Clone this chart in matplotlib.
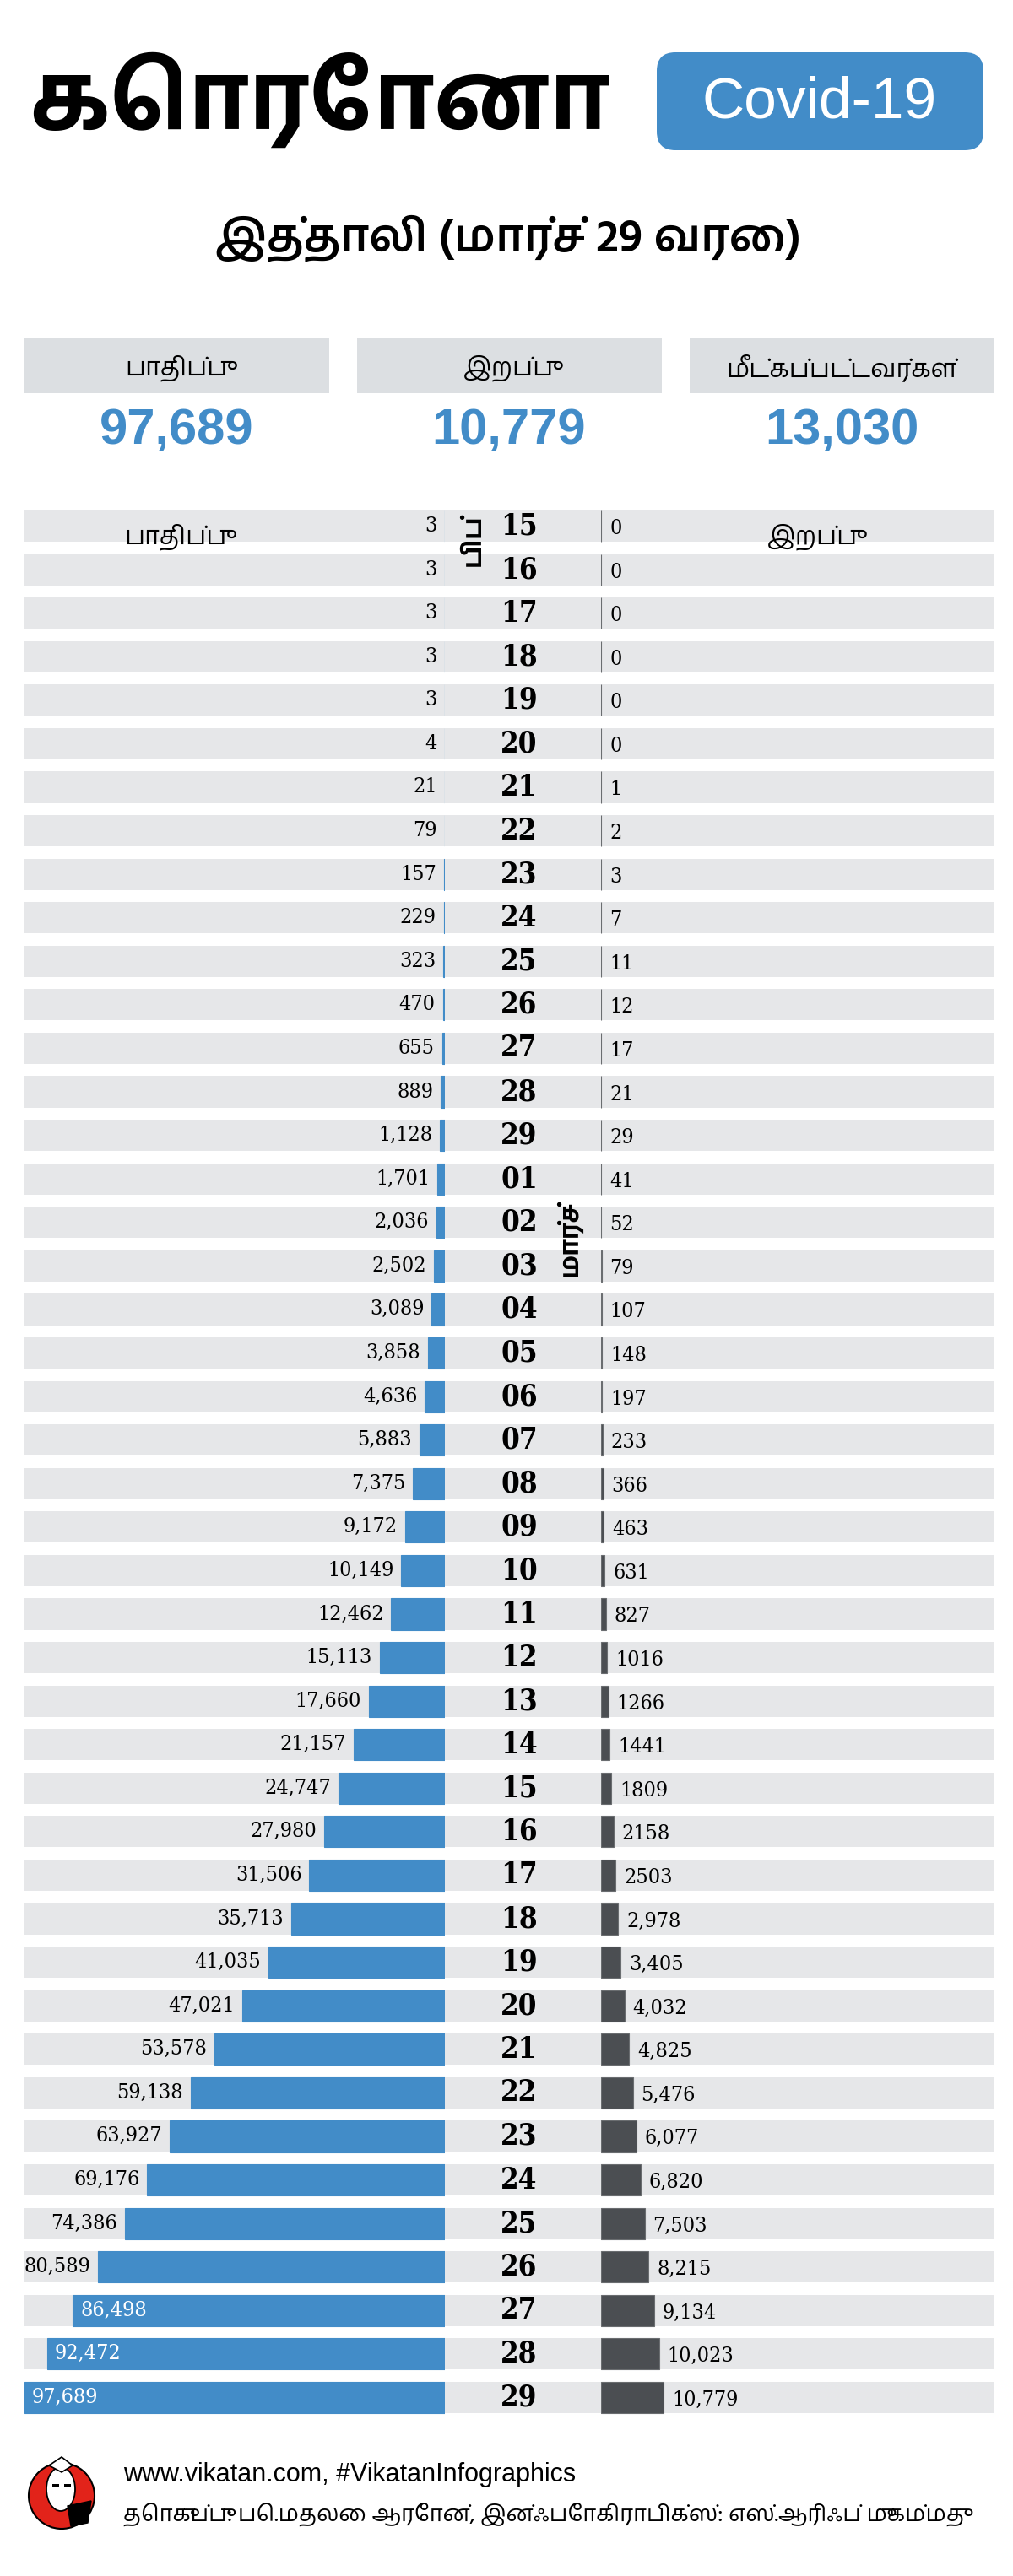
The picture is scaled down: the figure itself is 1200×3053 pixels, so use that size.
import unicodedata
import matplotlib
matplotlib.use("Agg")
import matplotlib.pyplot as plt
from matplotlib.patches import FancyBboxPatch, Rectangle, Circle, Ellipse, Polygon
import numpy as np

# ---------------------------------------------------------------------------
# data: Italy, cumulative cases / deaths, 15 Feb - 29 Mar 2020
# ---------------------------------------------------------------------------
days = ['15', '16', '17', '18', '19', '20', '21', '22', '23', '24', '25', '26',
        '27', '28', '29',
        '01', '02', '03', '04', '05', '06', '07', '08', '09', '10', '11', '12',
        '13', '14', '15', '16', '17', '18', '19', '20', '21', '22', '23', '24',
        '25', '26', '27', '28', '29']
cases = [3, 3, 3, 3, 3, 4, 21, 79, 157, 229, 323, 470, 655, 889, 1128,
         1701, 2036, 2502, 3089, 3858, 4636, 5883, 7375, 9172, 10149, 12462,
         15113, 17660, 21157, 24747, 27980, 31506, 35713, 41035, 47021, 53578,
         59138, 63927, 69176, 74386, 80589, 86498, 92472, 97689]
deaths = [0, 0, 0, 0, 0, 0, 1, 2, 3, 7, 11, 12, 17, 21, 29,
          41, 52, 79, 107, 148, 197, 233, 366, 463, 631, 827, 1016, 1266, 1441,
          1809, 2158, 2503, 2978, 3405, 4032, 4825, 5476, 6077, 6820, 7503,
          8215, 9134, 10023, 10779]
# the source prints some death counts without the thousands comma
death_labels = ['0', '0', '0', '0', '0', '0', '1', '2', '3', '7', '11', '12',
                '17', '21', '29', '41', '52', '79', '107', '148', '197', '233',
                '366', '463', '631', '827', '1016', '1266', '1441', '1809',
                '2158', '2503', '2,978', '3,405', '4,032', '4,825', '5,476',
                '6,077', '6,820', '7,503', '8,215', '9,134', '10,023', '10,779']
summary_labels = ['பாதிப்பு', 'இறப்பு', 'மீட்கப்பட்டவர்கள்']
summary_values = [97689, 10779, 13030]

BLUE = '#428cc8'
DARK = '#4b4e52'
ROW = '#e6e7e9'
HEAD = '#dcdfe2'

TAMIL = ['Hind Madurai', 'Noto Sans Tamil', 'Lohit Tamil', 'DejaVu Sans']
SERIF = 'DejaVu Serif'


def ta(s):
    # canonical decomposition, so two-part vowel signs are drawn without a gap
    return unicodedata.normalize('NFD', s)


W, H = 1200, 3053
fig = plt.figure(figsize=(W / 100, H / 100), dpi=100)
fig.patch.set_facecolor('white')

# overlay in pixel units for the heading, summary boxes and footer
deco = fig.add_axes([0, 0, 1, 1], zorder=5)
deco.set_xlim(0, W)
deco.set_ylim(H, 0)
deco.axis('off')
deco.patch.set_alpha(0)

# ---------------------------------------------------------------------------
# heading
# ---------------------------------------------------------------------------
deco.text(35, 118, ta('கொரோனா'), family=TAMIL, weight='bold', fontsize=80,
          ha='left', va='center')
deco.add_patch(FancyBboxPatch((778, 62), 387, 116,
                              boxstyle='round,pad=0,rounding_size=22',
                              fc=BLUE, ec='none'))
deco.text(971, 121, 'Covid-19', family='Liberation Sans', fontsize=50,
          color='white', ha='center', va='center')
deco.text(602, 283, ta('இத்தாலி (மார்ச் 29 வரை)'), family=TAMIL,
          weight='semibold', fontsize=39, ha='center', va='center')

# summary boxes
box_x = [29, 423, 817]
for bx, lab, val in zip(box_x, summary_labels, summary_values):
    deco.add_patch(Rectangle((bx, 401), 361, 65, fc=HEAD, ec='none'))
    deco.text(bx + 180, 436, ta(lab), family=TAMIL, fontsize=22,
              ha='center', va='center')
    deco.text(bx + 180, 510, f'{val:,}', family='Liberation Sans',
              weight='bold', fontsize=43, color=BLUE, ha='center',
              va='center')

# ---------------------------------------------------------------------------
# rows
# ---------------------------------------------------------------------------
pitch = 51.58
top = 623.5 - pitch / 2
n = len(days)
bottom = 1 - (top + n * pitch) / H
height = n * pitch / H
rows = np.arange(n)
bh = 0.72

ax_bg = fig.add_axes([29 / W, bottom, (1177 - 29) / W, height], zorder=1)
ax_bg.barh(rows, [1] * n, height=bh, color=ROW, left=0)
ax_bg.set_xlim(0, 1)
ax_bg.set_ylim(n - 0.5, -0.5)
ax_bg.axis('off')
for i, d in enumerate(days):
    ax_bg.text((615 - 29) / 1148, i, d, family=SERIF, stretch='condensed',
               weight='bold', fontsize=25, ha='center', va='center')

ax_l = fig.add_axes([29 / W, bottom, (527 - 29) / W, height], zorder=2)
ax_l.barh(rows, cases, height=bh, color=BLUE, ec=BLUE, lw=0.8)
ax_l.set_xlim(max(cases), 0)
ax_l.set_ylim(n - 0.5, -0.5)
ax_l.axis('off')
for i, v in enumerate(cases):
    if v > 0.85 * max(cases):
        ax_l.annotate(f'{v:,}', (v, i), xytext=(9, 0), textcoords='offset pixels',
                      family=SERIF, stretch='condensed', fontsize=18,
                      color='white', ha='left', va='center')
    else:
        ax_l.annotate(f'{v:,}', (v, i), xytext=(-9, 0), textcoords='offset pixels',
                      family=SERIF, stretch='condensed', fontsize=18,
                      color='black', ha='right', va='center')

ax_r = fig.add_axes([712 / W, bottom, (1177 - 712) / W, height], zorder=2)
ax_r.barh(rows, deaths, height=bh, color=DARK, ec='#6a6d70', lw=0.8)
ax_r.set_xlim(0, max(deaths) * 465 / 74)
ax_r.set_ylim(n - 0.5, -0.5)
ax_r.axis('off')
for i, (v, s) in enumerate(zip(deaths, death_labels)):
    ax_r.annotate(s, (v, i), xytext=(10, -3), textcoords='offset pixels',
                  family=SERIF, stretch='condensed', fontsize=18,
                  color='black', ha='left', va='center')

# column captions and month names
deco.text(208, 636, ta('பாதிப்பு'), family=TAMIL, fontsize=22, ha='center',
          va='center')
deco.text(962, 636, ta('இறப்பு'), family=TAMIL, fontsize=22, ha='center',
          va='center')
deco.text(561, 640, ta('பிப்'), family=TAMIL, weight='bold', fontsize=22,
          rotation=90, ha='center', va='center')
deco.text(674, 1468, ta('மார்ச்'), family=TAMIL, weight='bold', fontsize=22,
          rotation=90, ha='center', va='center')

# ---------------------------------------------------------------------------
# footer: Vikatan logo (simplified) and credits
# ---------------------------------------------------------------------------
deco.add_patch(Circle((73, 2958), 39, fc='#e2231a', ec='black', lw=1.5))
deco.add_patch(Ellipse((72, 2950), 34, 52, fc='white', ec='black', lw=1.3))
deco.add_patch(Polygon([[58, 2922], [73, 2912], [86, 2922], [73, 2930]],
                       closed=True, fc='white', ec='black', lw=1.2))
deco.add_patch(Rectangle((62, 2944), 8, 4, fc='black'))
deco.add_patch(Rectangle((76, 2944), 8, 4, fc='black'))
deco.add_patch(Polygon([[80, 2970], [108, 2964], [104, 2990], [84, 2994]],
                       closed=True, fc='black', ec='black'))
deco.text(146, 2933, 'www.vikatan.com, #VikatanInfographics',
          family=['Liberation Sans Narrow', 'Liberation Sans'], fontsize=22,
          ha='left', va='center')
deco.text(146, 2981,
          ta('தொகுப்பு: பெ.மதலை ஆரோன், இன்ஃபோகிராபிக்ஸ்: எஸ்.ஆரிஃப் முகம்மது'),
          family=TAMIL, fontsize=19.7, ha='left', va='center')

fig.savefig('out.png', dpi=100, facecolor='white')
